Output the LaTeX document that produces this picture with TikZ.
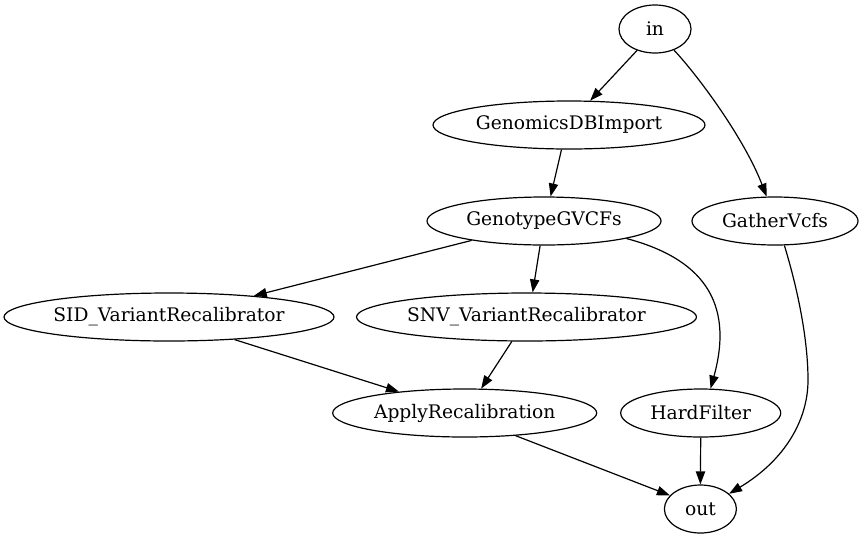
\documentclass[tikz,border=0pt]{standalone}
\usepackage{fontspec}
\setmainfont{DejaVu Serif}
\usetikzlibrary{shapes.geometric,arrows.meta}
\tikzset{
  gvnode/.style={ellipse, draw, line width=1.2pt, inner sep=0pt, minimum height=48pt,
    font=\fontsize{18.67pt}{22pt}\selectfont},
  gvedge/.style={line width=1.2pt, -{Triangle[length=13pt,width=9.3pt]}}
}
\begin{document}
\begin{tikzpicture}[x=1pt,y=-1pt]
\useasboundingbox (0,0) rectangle (864,539);
\node[gvnode, minimum width=72pt]  (nin)  at (655,29)    {in};
\node[gvnode, minimum width=272pt] (ngdb) at (569,125)   {GenomicsDBImport};
\node[gvnode, minimum width=234pt] (ngg)  at (544,221)   {GenotypeGVCFs};
\node[gvnode, minimum width=166pt] (ngv)  at (775,221)   {GatherVcfs};
\node[gvnode, minimum width=330pt] (nsid) at (169,317)   {SID\_VariantRecalibrator};
\node[gvnode, minimum width=340pt] (nsnv) at (526.5,317) {SNV\_VariantRecalibrator};
\node[gvnode, minimum width=264pt] (nap)  at (464.7,413) {ApplyRecalibration};
\node[gvnode, minimum width=160pt] (nhf)  at (700.7,413) {HardFilter};
\node[gvnode, minimum width=72pt]  (nout) at (700.4,509) {out};

\draw[gvedge] (nin.230) -- (ngdb.49);
\draw[gvedge] (nin.312.6) .. controls (700,78) and (745,140) .. (ngv.109);
\draw[gvedge] (ngdb.253.7) -- (ngg.75.8);
\draw[gvedge] (ngg.195.2) -- (nsid.14.5);
\draw[gvedge] (ngg.261) -- (nsnv.76.2);
\draw[gvedge] (ngg.348.6) .. controls (700,258) and (735,300) .. (nhf.68);
\draw[gvedge] (ngv.291.8) .. controls (798,290) and (808,340) .. (808,380)
  .. controls (808,420) and (785,460) .. (nout.28.4);
\draw[gvedge] (nsid.341.8) -- (nap.162.6);
\draw[gvedge] (nsnv.239) -- (nap.56.4);
\draw[gvedge] (nap.336.7) -- (nout.156.8);
\draw[gvedge] (nhf.south) -- (nout.north);
\end{tikzpicture}
\end{document}
